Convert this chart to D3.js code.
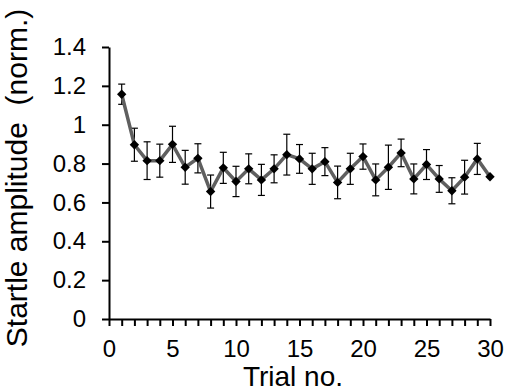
<!DOCTYPE html>
<html>
<head>
<meta charset="utf-8">
<script src="https://cdn.jsdelivr.net/npm/d3@7"></script>
<style>
  body { margin: 0; background: #fff; }
  svg { display: block; font-family: "Liberation Sans", Arial, sans-serif; }
</style>
</head>
<body>
<div id="chart"></div>
<script>
// Données
const trials = d3.range(1, 31);
const amplitude = [1.157, 0.897, 0.815, 0.815, 0.899, 0.781, 0.827, 0.656, 0.778, 0.708,
                   0.773, 0.716, 0.773, 0.846, 0.824, 0.773, 0.810, 0.703, 0.773, 0.836,
                   0.716, 0.781, 0.855, 0.721, 0.795, 0.721, 0.660, 0.730, 0.824, 0.732];
const sem = [0.052, 0.085, 0.097, 0.085, 0.093, 0.087, 0.075, 0.085, 0.080, 0.078,
             0.077, 0.080, 0.072, 0.105, 0.074, 0.080, 0.072, 0.084, 0.080, 0.065,
             0.082, 0.114, 0.071, 0.077, 0.077, 0.069, 0.067, 0.087, 0.080, 0.000];
const yTicks = [0, 0.2, 0.4, 0.6, 0.8, 1, 1.2, 1.4];
const xTicks = d3.range(0, 31);

const width = 512, height = 392;
const margin = { top: 47, right: 22, bottom: 73, left: 109 };

const svg = d3.select("#chart").append("svg")
    .attr("width", width)
    .attr("height", height);

const x = d3.scaleLinear().domain([0, 30]).range([margin.left, width - margin.right]);
const y = d3.scaleLinear().domain([0, 1.4]).range([height - margin.bottom, margin.top]);

// Axe Y
const gy = svg.append("g")
    .attr("transform", `translate(${margin.left},0)`)
    .call(d3.axisLeft(y).tickValues(yTicks).tickSize(7).tickSizeOuter(0).tickPadding(16)
        .tickFormat(d => d3.format("~g")(d)));
gy.selectAll("text").style("font-size", "24px").attr("fill", "#000");

// Axe X (petits traits à chaque essai, étiquettes tous les 5)
const gx = svg.append("g")
    .attr("transform", `translate(0,${y(0)})`)
    .call(d3.axisBottom(x).tickValues(xTicks).tickSize(7).tickSizeOuter(0).tickPadding(14)
        .tickFormat(d => d % 5 === 0 ? d : ""));
gx.selectAll("text").style("font-size", "24px").attr("fill", "#000");

svg.selectAll(".domain, .tick line").attr("stroke", "#000").attr("stroke-width", 2);

// Barres d'erreur
const eb = svg.append("g").attr("stroke", "#000").attr("stroke-width", 1.2);
trials.forEach((t, i) => {
    if (sem[i] <= 0) return;
    const top = y(amplitude[i] + sem[i]), bot = y(amplitude[i] - sem[i]);
    eb.append("line").attr("x1", x(t)).attr("x2", x(t)).attr("y1", top).attr("y2", bot);
    eb.append("line").attr("x1", x(t) - 3.5).attr("x2", x(t) + 3.5).attr("y1", top).attr("y2", top);
    eb.append("line").attr("x1", x(t) - 3.5).attr("x2", x(t) + 3.5).attr("y1", bot).attr("y2", bot);
});

// Ligne
svg.append("path")
    .datum(trials)
    .attr("fill", "none")
    .attr("stroke", "#5f5f5f")
    .attr("stroke-width", 3.5)
    .attr("d", d3.line().x(t => x(t)).y((t, i) => y(amplitude[i])));

// Marqueurs losange
svg.append("g")
    .selectAll("path")
    .data(trials)
    .join("path")
    .attr("transform", (t, i) => `translate(${x(t)},${y(amplitude[i])}) rotate(45)`)
    .attr("d", d3.symbol(d3.symbolSquare, 44))
    .attr("fill", "#000");

// Titres des axes
svg.append("text")
    .attr("x", 293)
    .attr("y", 386)
    .attr("text-anchor", "middle")
    .style("font-size", "28px")
    .text("Trial no.");

svg.append("text")
    .attr("transform", "rotate(-90)")
    .attr("x", -178)
    .attr("y", 27)
    .attr("text-anchor", "middle")
    .style("font-size", "30px")
    .style("white-space", "pre")
    .text("Startle amplitude  (norm.)");
</script>
</body>
</html>
